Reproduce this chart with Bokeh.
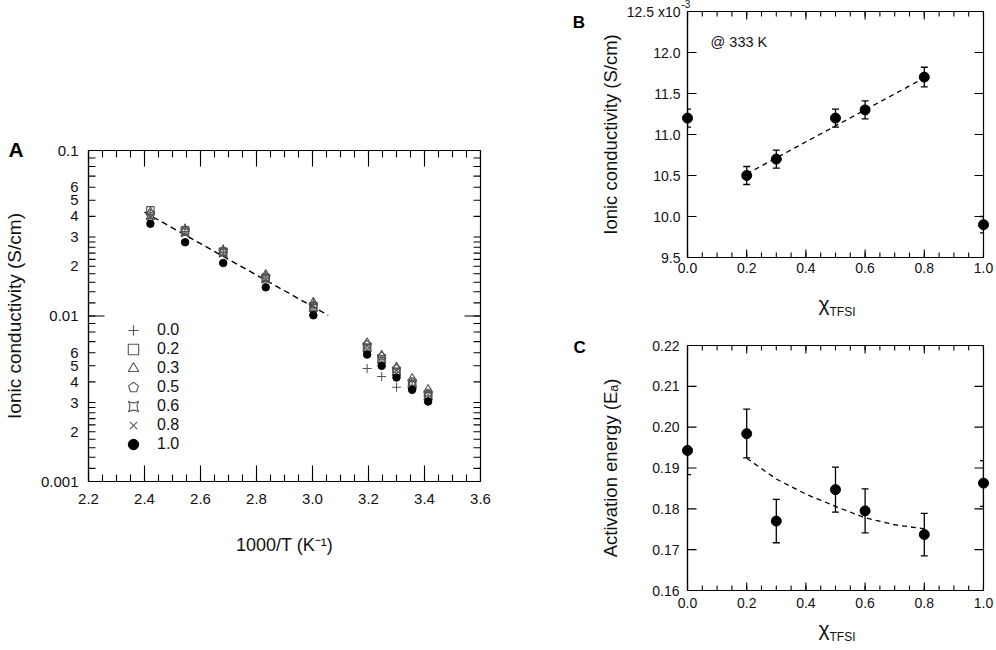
import math
from bokeh.plotting import figure
from bokeh.models import (Range1d, FixedTicker, PrintfTickFormatter, Legend, LegendItem, Label,
                          Whisker, TeeHead, ColumnDataSource)
from bokeh.core.properties import value
from bokeh.layouts import row, column
from bokeh.embed import file_html
from bokeh.resources import INLINE

FONT = "Liberation Sans"
GRAY = "#555555"

# ---------------- Panel A data ----------------
A_x = [2.421, 2.545, 2.681, 2.833, 3.003, 3.195, 3.247, 3.300, 3.356, 3.413]   # 1000/T
A_series_labels = ["0.0", "0.2", "0.3", "0.5", "0.6", "0.8", "1.0"]
A_y_00 = [0.0410, 0.0340, 0.0255, 0.0176, 0.0120, 0.00482, 0.00431, 0.00371, 0.0038, 0.0033]
A_y_02 = [0.0435, 0.0330, 0.0245, 0.0170, 0.0112, 0.0064, 0.0055, 0.0046, 0.0038, 0.0033]
A_y_03 = [0.0425, 0.0335, 0.0250, 0.0178, 0.0121, 0.0069, 0.0058, 0.0049, 0.0042, 0.0036]
A_y_05 = [0.0415, 0.0325, 0.0245, 0.0172, 0.0116, 0.0067, 0.0057, 0.0048, 0.0040, 0.0034]
A_y_06 = [0.0405, 0.0320, 0.0240, 0.0168, 0.0113, 0.0065, 0.0055, 0.0046, 0.0039, 0.0033]
A_y_08 = [0.0395, 0.0315, 0.0238, 0.0165, 0.0115, 0.0066, 0.0056, 0.0047, 0.0041, 0.0035]
A_y_10 = [0.0361, 0.0279, 0.0209, 0.0149, 0.0101, 0.00585, 0.0050, 0.00425, 0.00358, 0.00304]
A_fit_x = [2.40, 3.056]
A_fit_y = [0.0424, 0.0101]

A_xlim = (2.2, 3.6)
A_ylim = (0.001, 0.1)
A_xticks = [2.2, 2.4, 2.6, 2.8, 3.0, 3.2, 3.4, 3.6]
A_xtick_labels = ["2.2", "2.4", "2.6", "2.8", "3.0", "3.2", "3.4", "3.6"]
A_decades = [0.001, 0.01, 0.1]
A_decade_labels = ["0.001", "0.01", "0.1"]
A_mantissas = [1.2, 1.4, 1.6, 1.8, 2, 2.2, 2.4, 2.6, 2.8, 3, 4, 5, 6, 7, 8, 9]
A_labeled_mantissas = {2: "2", 3: "3", 4: "4", 5: "5", 6: "6"}

# ---------------- Panel B data ----------------
B_x = [0.0, 0.2, 0.3, 0.5, 0.6, 0.8, 1.0]
B_y = [11.2, 10.5, 10.7, 11.2, 11.3, 11.7, 9.9]        # x10^-3 S/cm
B_err = [0.11, 0.11, 0.11, 0.11, 0.11, 0.12, 0.10]
B_fit_x = [0.2, 0.8]
B_fit_y = [10.52, 11.69]
B_xlim = (0.0, 1.0)
B_ylim = (9.5, 12.5)
B_yticks = [9.5, 10.0, 10.5, 11.0, 11.5, 12.0, 12.5]
B_ytick_labels = ["9.5", "10.0", "10.5", "11.0", "11.5", "12.0", "12.5 x10"]

# ---------------- Panel C data ----------------
C_x = [0.0, 0.2, 0.3, 0.5, 0.6, 0.8, 1.0]
C_y = [0.1943, 0.1984, 0.1770, 0.1847, 0.1795, 0.1737, 0.1863]
C_err_hi = [0.0, 0.0060, 0.0053, 0.0055, 0.0054, 0.0052, 0.0055]
C_err_lo = [0.0059, 0.0059, 0.0053, 0.0055, 0.0054, 0.0052, 0.0057]
C_fit_x = [0.2, 0.3, 0.4, 0.5, 0.6, 0.7, 0.8]
C_fit_y = [0.1924, 0.1873, 0.1836, 0.1806, 0.1778, 0.1761, 0.1751]
C_xlim = (0.0, 1.0)
C_ylim = (0.16, 0.22)
C_yticks = [0.16, 0.17, 0.18, 0.19, 0.20, 0.21, 0.22]

X_ticks = [0.0, 0.2, 0.4, 0.6, 0.8, 1.0]
X_minor = [round(0.05 * i, 2) for i in range(21)]


def style_axis(ax, size="15px", standoff=8):
    ax.axis_line_color = "black"
    ax.axis_line_width = 1.2
    ax.major_tick_in = 0
    ax.major_tick_out = 0
    ax.minor_tick_in = 0
    ax.minor_tick_out = 0
    ax.major_tick_line_color = None
    ax.minor_tick_line_color = None
    ax.major_label_text_font = FONT
    ax.major_label_text_font_size = size
    ax.major_label_text_color = "#111111"
    ax.major_label_standoff = standoff
    ax.axis_label_text_font = FONT
    ax.axis_label_text_font_style = "normal"
    ax.axis_label_text_color = "#111111"


def inner_ticks(p, values, edges, length, on_x):
    # tick marks pointing into the frame on both opposite edges (the outer half is clipped)
    for e in edges:
        if on_x:
            p.scatter(x=values, y=[e] * len(values), marker="dash", angle=math.pi / 2,
                      size=2 * length, line_color="black", line_width=1.1)
        else:
            p.scatter(x=[e] * len(values), y=values, marker="dash",
                      size=2 * length, line_color="black", line_width=1.1)


def base_fig(**kw):
    p = figure(output_backend="svg", toolbar_location=None, **kw)
    p.xgrid.visible = False
    p.ygrid.visible = False
    p.outline_line_color = "black"
    p.outline_line_width = 1.2
    p.background_fill_color = "white"
    p.border_fill_color = "white"
    return p


def free_text(p, x, y, text, size, dx=0, dy=0, bold=False, align="left", color="#111111"):
    # text glyph anchored at a data corner, shifted in screen pixels (dy > 0 is downwards)
    r = p.text(x=[x], y=[y], text=[text], x_offset=dx, y_offset=dy,
               text_font=value(FONT), text_font_size=value(size),
               text_font_style="bold" if bold else "normal",
               text_align=align, text_baseline="alphabetic", text_color=color)
    r.level = "overlay"
    return r


# ======================= Panel A =======================
pA = base_fig(width=568, height=650, x_range=Range1d(*A_xlim), y_range=Range1d(*A_ylim),
              y_axis_type="log", min_border_left=88, min_border_right=88,
              min_border_top=150, min_border_bottom=169)

A_xminor = [round(A_xlim[0] + 0.05 * i, 2) for i in range(29)]
A_yshort = [m * d for d in A_decades[:2] for m in A_mantissas] + A_decades
A_yoverrides = {}
for d, lab in zip(A_decades, A_decade_labels):
    A_yoverrides[d] = lab
for d in A_decades[:2]:
    for m in A_mantissas:
        A_yoverrides[m * d] = A_labeled_mantissas.get(m, "")

xa = pA.xaxis[0]
xa.ticker = FixedTicker(ticks=A_xticks, minor_ticks=[])
xa.formatter = PrintfTickFormatter(format="%.1f")
xa.major_label_overrides = dict(zip(A_xticks, A_xtick_labels))
style_axis(xa, "15px", 12)
xa.axis_label = "1000/T (K\u207b\u00b9)"
xa.axis_label_text_font_size = "18px"
xa.axis_label_standoff = 28

ya = pA.yaxis[0]
ya.ticker = FixedTicker(ticks=A_yshort, minor_ticks=[])
ya.major_label_overrides = A_yoverrides
style_axis(ya, "15px", 10)
ya.axis_label = "Ionic conductivity (S/cm)"
ya.axis_label_text_font_size = "19px"
ya.axis_label_standoff = 13

inner_ticks(pA, A_xticks, A_ylim, 16, True)
inner_ticks(pA, A_xminor, A_ylim, 7, True)
inner_ticks(pA, A_yshort, A_xlim, 7, False)
inner_ticks(pA, A_decades, A_xlim, 16, False)

pA.line(A_fit_x, A_fit_y, line_color="black", line_width=1.4, line_dash="6 4")

r00 = pA.scatter(A_x, A_y_00, marker="cross", size=9, line_color=GRAY, line_width=1.1)
r02 = pA.scatter(A_x, A_y_02, marker="square", size=7.5, fill_color=None, line_color=GRAY, line_width=1.1)
r03 = pA.scatter(A_x, A_y_03, marker="triangle", size=8.5, fill_color=None, line_color=GRAY, line_width=1.1)
r05 = pA.ngon(x=A_x, y=A_y_05, radius=4.3, radius_units="screen", n=5, angle=0,
              fill_color=None, line_color=GRAY, line_width=1.1)
r06 = pA.scatter(A_x, A_y_06, marker="square_pin", size=8.5, fill_color=None, line_color=GRAY, line_width=1.1)
r08 = pA.scatter(A_x, A_y_08, marker="x", size=8.5, line_color=GRAY, line_width=1.1)
r10 = pA.scatter(A_x, A_y_10, marker="circle", size=7.5, fill_color="black", line_color="black")

# one single-item legend per row so that the symbols can be larger than the row pitch
A_renderers = [r00, r02, r03, r05, r06, r08, r10]
n_rows = len(A_renderers)
for i, (lab, r) in enumerate(zip(A_series_labels, A_renderers)):
    leg = Legend(items=[LegendItem(label=lab, renderers=[r])],
                 location=(32, 24 + 19 * (n_rows - 1 - i)), padding=0, margin=0,
                 glyph_width=26, glyph_height=26, label_height=19,
                 label_standoff=11, label_text_font=FONT, label_text_font_size="16px",
                 label_text_color="#111111", border_line_color=None,
                 background_fill_alpha=0)
    pA.add_layout(leg)

free_text(pA, A_xlim[0], A_ylim[1], "A", "21px", dx=-80, dy=-1, bold=True, color="black")

# ======================= Panel B =======================
pB = base_fig(width=428, height=330, x_range=Range1d(*B_xlim), y_range=Range1d(*B_ylim),
              min_border_left=119, min_border_right=12, min_border_top=11, min_border_bottom=73)
xb = pB.xaxis[0]
xb.ticker = FixedTicker(ticks=X_ticks, minor_ticks=[])
xb.formatter = PrintfTickFormatter(format="%.1f")
style_axis(xb, "14px", 5)
yb = pB.yaxis[0]
yb.ticker = FixedTicker(ticks=B_yticks, minor_ticks=[])
yb.formatter = PrintfTickFormatter(format="%.1f")
yb.major_label_overrides = dict(zip(B_yticks, B_ytick_labels))
style_axis(yb, "14px", 7)
yb.axis_label = "Ionic conductivity (S/cm)"
yb.axis_label_text_font_size = "18.5px"
yb.axis_label_standoff = 3

inner_ticks(pB, X_ticks, B_ylim, 8, True)
inner_ticks(pB, X_minor, B_ylim, 5, True)
inner_ticks(pB, B_yticks, B_xlim, 9, False)

srcB = ColumnDataSource(dict(x=B_x, y=B_y,
                             upper=[v + e for v, e in zip(B_y, B_err)],
                             lower=[v - e for v, e in zip(B_y, B_err)]))
pB.line(B_fit_x, B_fit_y, line_color="black", line_width=1.3, line_dash="5 4")
wB = Whisker(source=srcB, base="x", upper="upper", lower="lower", line_color="black",
             line_width=1.3, level="overlay",
             upper_head=TeeHead(size=7, line_color="black", line_width=1.3),
             lower_head=TeeHead(size=7, line_color="black", line_width=1.3))
pB.add_layout(wB)
cB = pB.scatter("x", "y", source=srcB, marker="circle", size=10, fill_color="black", line_color="black")
cB.level = "overlay"

pB.add_layout(Label(x=0.078, y=12.134, text="@ 333 K", text_font=FONT, text_font_size="14.5px",
                    text_baseline="alphabetic", text_color="#111111"))
free_text(pB, B_xlim[0], B_ylim[1], "-3", "10px", dx=-6, dy=-7.5)
free_text(pB, 0.5, B_ylim[0], "\u03c7", "21px", dx=-6, dy=46, align="right")
free_text(pB, 0.5, B_ylim[0], "TFSI", "12px", dx=-6, dy=54)
free_text(pB, B_xlim[0], B_ylim[1], "B", "17px", dx=-114.7, dy=11, bold=True, color="black")

# ======================= Panel C =======================
pC = base_fig(width=428, height=320, x_range=Range1d(*C_xlim), y_range=Range1d(*C_ylim),
              min_border_left=118, min_border_right=13, min_border_top=15, min_border_bottom=60)
xc = pC.xaxis[0]
xc.ticker = FixedTicker(ticks=X_ticks, minor_ticks=[])
xc.formatter = PrintfTickFormatter(format="%.1f")
style_axis(xc, "14px", 7)
yc = pC.yaxis[0]
yc.ticker = FixedTicker(ticks=C_yticks, minor_ticks=[])
yc.formatter = PrintfTickFormatter(format="%.2f")
style_axis(yc, "14px", 8)
yc.axis_label = "Activation energy (E\u2090)"
yc.axis_label_text_font_size = "18.5px"
yc.axis_label_standoff = 28

inner_ticks(pC, X_ticks, C_ylim, 8, True)
inner_ticks(pC, X_minor, C_ylim, 5, True)
inner_ticks(pC, C_yticks, C_xlim, 9, False)

srcC = ColumnDataSource(dict(x=C_x, y=C_y,
                             upper=[v + e for v, e in zip(C_y, C_err_hi)],
                             lower=[v - e for v, e in zip(C_y, C_err_lo)]))
pC.line(C_fit_x, C_fit_y, line_color="black", line_width=1.3, line_dash="5 4")
wC = Whisker(source=srcC, base="x", upper="upper", lower="lower", line_color="black",
             line_width=1.3, level="overlay",
             upper_head=TeeHead(size=7, line_color="black", line_width=1.3),
             lower_head=TeeHead(size=7, line_color="black", line_width=1.3))
pC.add_layout(wC)
cC = pC.scatter("x", "y", source=srcC, marker="circle", size=10, fill_color="black", line_color="black")
cC.level = "overlay"

free_text(pC, 0.5, C_ylim[0], "\u03c7", "21px", dx=-6, dy=38, align="right")
free_text(pC, 0.5, C_ylim[0], "TFSI", "12px", dx=-6, dy=46)
free_text(pC, C_xlim[0], C_ylim[1], "C", "17px", dx=-114, dy=1.7, bold=True, color="black")

layout = row(pA, column(pB, pC))
open("out.html", "w").write(file_html(layout, INLINE))
